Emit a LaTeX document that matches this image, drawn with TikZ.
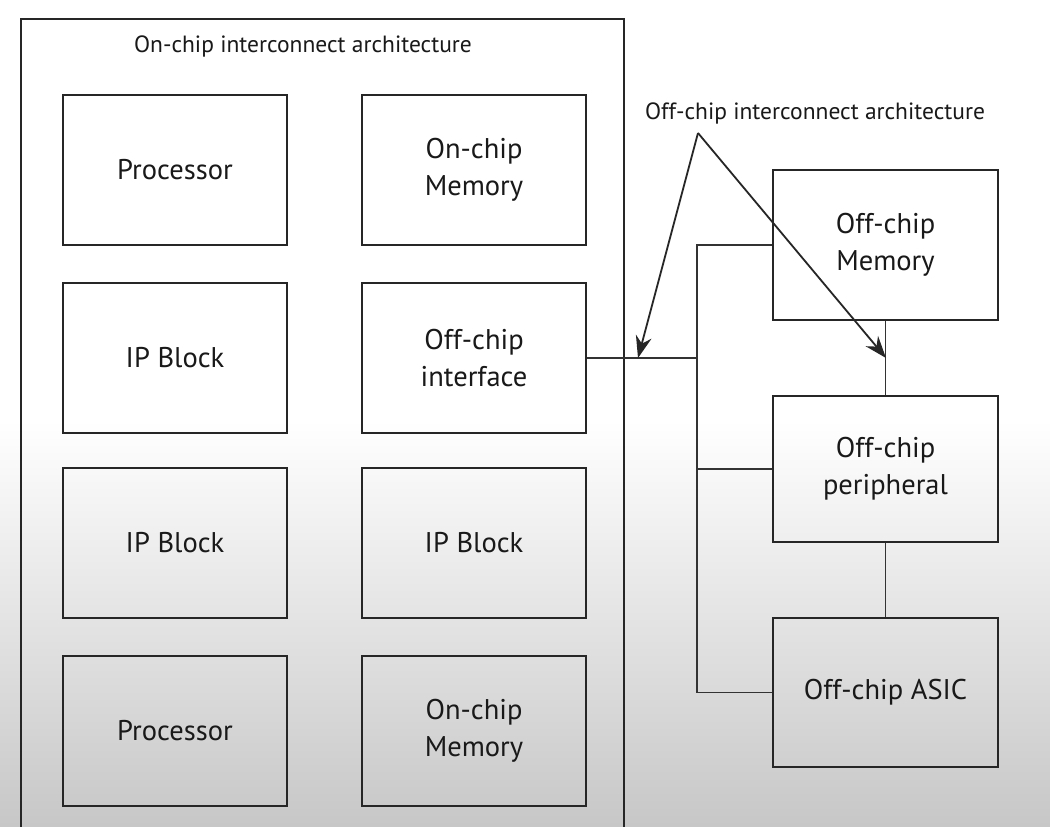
\documentclass[tikz,border=0pt]{standalone}
\usepackage{fontspec}
\setmainfont{PT Sans}
\usetikzlibrary{arrows.meta,positioning}
\begin{document}
\begin{tikzpicture}[x=1pt,y=-1pt,
  blk/.style={draw=black!85,line width=2pt,minimum width=224pt,minimum height=150pt,inner sep=0pt,align=center,font=\fontsize{28.5}{37}\selectfont,text=black!90},
  wire/.style={draw=black!80,line width=1.8pt},
  callout/.style={draw=black!85,line width=1.8pt,-{Stealth[length=22pt,width=16pt]}},
  lbl/.style={font=\fontsize{23.5}{26}\selectfont,text=black!90,inner sep=0pt}]
\useasboundingbox (0,0) rectangle (1050,827);
\fill[white] (0,0) rectangle (1050,420);
\shade[top color=white,bottom color=black!22] (0,420) rectangle (1050,827);
% outer chip boundary
\draw[black!85,line width=2pt] (21,828) -- (21,19) -- (624,19) -- (624,828);
\node[lbl] (title) at (303,46) {On-chip interconnect architecture};
% on-chip blocks
\node[blk] (p1) at (175,170) {Processor};
\node[blk] (m1) at (474,170) {On-chip\\Memory};
\node[blk] (ip1) at (175,358) {IP Block};
\node[blk] (ofi) at (474,358) {Off-chip\\interface};
\node[blk] (ip2) at (175,543) {IP Block};
\node[blk] (ip3) at (474,543) {IP Block};
\node[blk] (p2) at (175,731) {Processor};
\node[blk] (m2) at (474,731) {On-chip\\Memory};
% off-chip blocks
\node[blk,minimum width=225pt] (mem) at (885.5,245) {Off-chip\\Memory};
\node[blk,minimum width=225pt,minimum height=146pt] (per) at (885.5,469) {Off-chip\\peripheral};
\node[blk,minimum width=225pt,minimum height=149pt] (asic) at (885.5,692.5) {Off-chip ASIC};
% bus
\coordinate (j1) at (697,358);
\draw[wire] (ofi.east) -- (j1);
\draw[wire] (mem.west) -- (mem.west -| j1) -- (asic.west -| j1) -- (asic.west);
\draw[wire] (per.west) -- (per.west -| j1);
\draw[wire] (mem.south) -- (per.north);
\draw[wire] (per.south) -- (asic.north);
% callout
\node[lbl] (off) at (815,113) {Off-chip interconnect architecture};
\coordinate (apex) at (698,133);
\coordinate (tipL) at (638,358);
\coordinate (tipR) at (886,358);
\draw[callout] (apex) -- (tipL);
\draw[callout] (apex) -- (tipR);
\end{tikzpicture}
\end{document}
